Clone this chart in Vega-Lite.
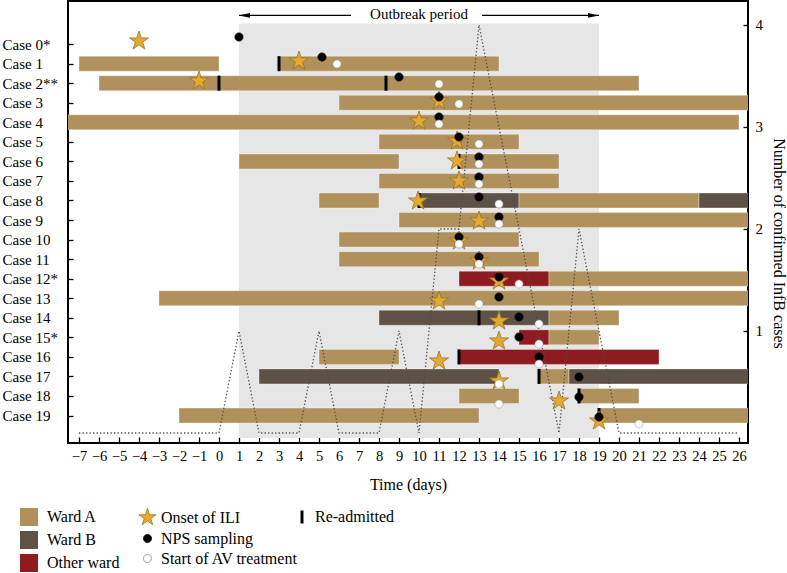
{
  "$schema": "https://vega.github.io/schema/vega-lite/v6.json",
  "width": 680,
  "height": 442,
  "autosize": {"type": "none"},
  "padding": {"left": 68, "top": 1, "right": 39, "bottom": 130},
  "background": "white",
  "config": {
    "font": "Liberation Serif",
    "view": {"stroke": "black", "strokeWidth": 2},
    "axis": {"domain": false, "grid": false, "labelOverlap": false, "labelFlush": false, "labelFont": "Liberation Serif", "titleFont": "Liberation Serif", "labelColor": "black", "titleColor": "black", "tickColor": "black", "tickWidth": 1.3, "labelFontSize": 15, "titleFontSize": 15, "titleFontWeight": "normal"},
    "legend": {"labelFont": "Liberation Serif", "labelFontSize": 16, "labelColor": "black", "padding": 0, "offset": 0, "labelLimit": 300}
  },
  "datasets": {
    "bars": [
      {"case": "Case 1", "row": 1, "start": -7, "end": 0, "ward": "Ward A"},
      {"case": "Case 1", "row": 1, "start": 3, "end": 14, "ward": "Ward A"},
      {"case": "Case 2**", "row": 2, "start": -6, "end": 21, "ward": "Ward A"},
      {"case": "Case 3", "row": 3, "start": 6, "end": 26.5, "ward": "Ward A"},
      {"case": "Case 4", "row": 4, "start": -7.6, "end": 26, "ward": "Ward A"},
      {"case": "Case 5", "row": 5, "start": 8, "end": 15, "ward": "Ward A"},
      {"case": "Case 6", "row": 6, "start": 1, "end": 9, "ward": "Ward A"},
      {"case": "Case 6", "row": 6, "start": 12, "end": 17, "ward": "Ward A"},
      {"case": "Case 7", "row": 7, "start": 8, "end": 17, "ward": "Ward A"},
      {"case": "Case 8", "row": 8, "start": 5, "end": 8, "ward": "Ward A"},
      {"case": "Case 8", "row": 8, "start": 10, "end": 15, "ward": "Ward B"},
      {"case": "Case 8", "row": 8, "start": 15, "end": 24, "ward": "Ward A"},
      {"case": "Case 8", "row": 8, "start": 24, "end": 26.5, "ward": "Ward B"},
      {"case": "Case 9", "row": 9, "start": 9, "end": 26.5, "ward": "Ward A"},
      {"case": "Case 10", "row": 10, "start": 6, "end": 15, "ward": "Ward A"},
      {"case": "Case 11", "row": 11, "start": 6, "end": 16, "ward": "Ward A"},
      {"case": "Case 12*", "row": 12, "start": 12, "end": 16.5, "ward": "Other ward"},
      {"case": "Case 12*", "row": 12, "start": 16.5, "end": 26.5, "ward": "Ward A"},
      {"case": "Case 13", "row": 13, "start": -3, "end": 26.5, "ward": "Ward A"},
      {"case": "Case 14", "row": 14, "start": 8, "end": 16.5, "ward": "Ward B"},
      {"case": "Case 14", "row": 14, "start": 16.5, "end": 20, "ward": "Ward A"},
      {"case": "Case 15*", "row": 15, "start": 15, "end": 16.5, "ward": "Other ward"},
      {"case": "Case 15*", "row": 15, "start": 16.5, "end": 19, "ward": "Ward A"},
      {"case": "Case 16", "row": 16, "start": 5, "end": 9, "ward": "Ward A"},
      {"case": "Case 16", "row": 16, "start": 12, "end": 22, "ward": "Other ward"},
      {"case": "Case 17", "row": 17, "start": 2, "end": 14, "ward": "Ward B"},
      {"case": "Case 17", "row": 17, "start": 16, "end": 17.5, "ward": "Ward A"},
      {"case": "Case 17", "row": 17, "start": 17.5, "end": 26.5, "ward": "Ward B"},
      {"case": "Case 18", "row": 18, "start": 12, "end": 15, "ward": "Ward A"},
      {"case": "Case 18", "row": 18, "start": 18, "end": 21, "ward": "Ward A"},
      {"case": "Case 19", "row": 19, "start": -2, "end": 13, "ward": "Ward A"},
      {"case": "Case 19", "row": 19, "start": 19, "end": 26.5, "ward": "Ward A"}
    ],
    "events": [
      {"row": 0, "day": -4, "event": "Onset of ILI"},
      {"row": 0, "day": 1, "event": "NPS sampling"},
      {"row": 1, "day": 4, "event": "Onset of ILI"},
      {"row": 1, "day": 5.15, "event": "NPS sampling"},
      {"row": 1, "day": 5.9, "event": "Start of AV treatment"},
      {"row": 2, "day": -1, "event": "Onset of ILI"},
      {"row": 2, "day": 9, "event": "NPS sampling"},
      {"row": 2, "day": 11, "event": "Start of AV treatment"},
      {"row": 3, "day": 11, "event": "Onset of ILI"},
      {"row": 3, "day": 11, "event": "NPS sampling"},
      {"row": 3, "day": 12, "event": "Start of AV treatment"},
      {"row": 4, "day": 10, "event": "Onset of ILI"},
      {"row": 4, "day": 11, "event": "NPS sampling"},
      {"row": 4, "day": 11, "event": "Start of AV treatment"},
      {"row": 5, "day": 11.9, "event": "Onset of ILI"},
      {"row": 5, "day": 12, "event": "NPS sampling"},
      {"row": 5, "day": 13, "event": "Start of AV treatment"},
      {"row": 6, "day": 11.9, "event": "Onset of ILI"},
      {"row": 6, "day": 13, "event": "NPS sampling"},
      {"row": 6, "day": 13, "event": "Start of AV treatment"},
      {"row": 7, "day": 12, "event": "Onset of ILI"},
      {"row": 7, "day": 13, "event": "NPS sampling"},
      {"row": 7, "day": 13, "event": "Start of AV treatment"},
      {"row": 8, "day": 9.95, "event": "Onset of ILI"},
      {"row": 8, "day": 13, "event": "NPS sampling"},
      {"row": 8, "day": 14, "event": "Start of AV treatment"},
      {"row": 9, "day": 13, "event": "Onset of ILI"},
      {"row": 9, "day": 14, "event": "NPS sampling"},
      {"row": 9, "day": 14, "event": "Start of AV treatment"},
      {"row": 10, "day": 12, "event": "Onset of ILI"},
      {"row": 10, "day": 12, "event": "NPS sampling"},
      {"row": 10, "day": 12, "event": "Start of AV treatment"},
      {"row": 11, "day": 13, "event": "Onset of ILI"},
      {"row": 11, "day": 13, "event": "NPS sampling"},
      {"row": 11, "day": 13, "event": "Start of AV treatment"},
      {"row": 12, "day": 14, "event": "Onset of ILI"},
      {"row": 12, "day": 14, "event": "NPS sampling"},
      {"row": 12, "day": 15, "event": "Start of AV treatment"},
      {"row": 13, "day": 11, "event": "Onset of ILI"},
      {"row": 13, "day": 14, "event": "NPS sampling"},
      {"row": 13, "day": 13, "event": "Start of AV treatment"},
      {"row": 14, "day": 14, "event": "Onset of ILI"},
      {"row": 14, "day": 15, "event": "NPS sampling"},
      {"row": 14, "day": 16, "event": "Start of AV treatment"},
      {"row": 15, "day": 14, "event": "Onset of ILI"},
      {"row": 15, "day": 15, "event": "NPS sampling"},
      {"row": 15, "day": 16, "event": "Start of AV treatment"},
      {"row": 16, "day": 11, "event": "Onset of ILI"},
      {"row": 16, "day": 16, "event": "NPS sampling"},
      {"row": 16, "day": 16, "event": "Start of AV treatment"},
      {"row": 17, "day": 14, "event": "Onset of ILI"},
      {"row": 17, "day": 18, "event": "NPS sampling"},
      {"row": 17, "day": 14, "event": "Start of AV treatment"},
      {"row": 18, "day": 17, "event": "Onset of ILI"},
      {"row": 18, "day": 18, "event": "NPS sampling"},
      {"row": 18, "day": 14, "event": "Start of AV treatment"},
      {"row": 19, "day": 19, "event": "Onset of ILI"},
      {"row": 19, "day": 19, "event": "NPS sampling"},
      {"row": 19, "day": 21, "event": "Start of AV treatment"}
    ],
    "readmit": [
      {"row": 1, "day": 3, "event": "Re-admitted"},
      {"row": 2, "day": 0, "event": "Re-admitted"},
      {"row": 2, "day": 8.35, "event": "Re-admitted"},
      {"row": 6, "day": 12, "event": "Re-admitted"},
      {"row": 8, "day": 10, "event": "Re-admitted"},
      {"row": 14, "day": 13, "event": "Re-admitted"},
      {"row": 16, "day": 12, "event": "Re-admitted"},
      {"row": 17, "day": 16, "event": "Re-admitted"},
      {"row": 18, "day": 18, "event": "Re-admitted"},
      {"row": 19, "day": 19, "event": "Re-admitted"}
    ],
    "epi": [
      {"day": -7, "count": 0}, {"day": -6, "count": 0}, {"day": -5, "count": 0}, {"day": -4, "count": 0},
      {"day": -3, "count": 0}, {"day": -2, "count": 0}, {"day": -1, "count": 0}, {"day": 0, "count": 0},
      {"day": 1, "count": 1}, {"day": 2, "count": 0}, {"day": 3, "count": 0}, {"day": 4, "count": 0},
      {"day": 5, "count": 1}, {"day": 6, "count": 0}, {"day": 7, "count": 0}, {"day": 8, "count": 0},
      {"day": 9, "count": 1}, {"day": 10, "count": 0}, {"day": 11, "count": 2}, {"day": 12, "count": 2},
      {"day": 13, "count": 4}, {"day": 14, "count": 3}, {"day": 15, "count": 2}, {"day": 16, "count": 1},
      {"day": 17, "count": 0}, {"day": 18, "count": 2}, {"day": 19, "count": 1}, {"day": 20, "count": 0},
      {"day": 21, "count": 0}, {"day": 22, "count": 0}, {"day": 23, "count": 0}, {"day": 24, "count": 0},
      {"day": 25, "count": 0}, {"day": 26, "count": 0}
    ]
  },
  "layer": [
    {
      "layer": [
        {
          "data": {"values": [{"label": "Outbreak period", "start": 1, "end": 19}]},
          "mark": {"type": "rect", "color": "#E6E6E6"},
          "encoding": {
            "x": {"field": "start", "type": "quantitative", "title": "Time (days)",
              "scale": {"domain": [-7.55, 26.45], "nice": false, "zero": false},
              "axis": {"values": [-7,-6,-5,-4,-3,-2,-1,0,1,2,3,4,5,6,7,8,9,10,11,12,13,14,15,16,17,18,19,20,21,22,23,24,25,26], "tickCount": 100, "format": "d", "tickSize": -6, "labelPadding": 12, "labelFontSize": 14.5, "labelOverlap": false, "labelFlush": false, "titlePadding": 14, "titleFontSize": 16}},
            "x2": {"field": "end"},
            "y": {"datum": -1.05, "type": "quantitative", "title": null,
              "scale": {"domain": [-1.95, 20.15], "reverse": true, "nice": false, "zero": false},
              "axis": {"values": [0,1,2,3,4,5,6,7,8,9,10,11,12,13,14,15,16,17,18,19], "tickCount": 100, "labelExpr": "['Case 0*','Case 1','Case 2**','Case 3','Case 4','Case 5','Case 6','Case 7','Case 8','Case 9','Case 10','Case 11','Case 12*','Case 13','Case 14','Case 15*','Case 16','Case 17','Case 18','Case 19'][datum.value]", "tickSize": -5, "labelPadding": 71, "labelAlign": "left", "labelBaseline": "middle", "labelFontSize": 15, "labelOverlap": false, "labelBound": false, "labelFlush": false, "title": null}},
            "y2": {"datum": 20.15}
          }
        },
        {
          "data": {"name": "bars"},
          "mark": {"type": "bar", "size": 15, "clip": true, "stroke": "#FFFFFF", "strokeOpacity": 0.35, "strokeWidth": 1},
          "encoding": {
            "x": {"field": "start", "type": "quantitative", "title": "Time (days)", "scale": {"domain": [-7.55, 26.45], "nice": false, "zero": false}},
            "x2": {"field": "end"},
            "y": {"field": "row", "type": "quantitative", "title": null, "scale": {"domain": [-1.95, 20.15], "reverse": true, "nice": false, "zero": false}},
            "color": {"field": "ward", "type": "nominal",
              "scale": {"domain": ["Ward A", "Ward B", "Other ward"], "range": ["#B0915C", "#5E5247", "#8E1B20"]},
              "legend": {"orient": "none", "legendX": -48, "legendY": 507, "title": null, "symbolType": "square", "symbolSize": 324, "labelOffset": 9, "rowPadding": 5, "symbolStrokeWidth": 0}}
          }
        },
        {
          "data": {"name": "readmit"},
          "mark": {"type": "tick", "orient": "vertical", "size": 15, "thickness": 3, "color": "black"},
          "encoding": {
            "x": {"field": "day", "type": "quantitative", "title": "Time (days)", "scale": {"domain": [-7.55, 26.45], "nice": false, "zero": false}},
            "y": {"field": "row", "type": "quantitative", "title": null, "scale": {"domain": [-1.95, 20.15], "reverse": true, "nice": false, "zero": false}},
            "opacity": {"field": "event", "type": "nominal", "scale": {"domain": ["Re-admitted"], "range": [1, 1]},
              "legend": {"orient": "none", "legendX": 226, "legendY": 508, "title": null, "symbolType": "M-0.23,-1H0.23V1H-0.23Z", "symbolSize": 169, "symbolFillColor": "black", "symbolStrokeWidth": 0, "labelOffset": 5}}
          }
        },
        {
          "data": {"values": [{"label": "Outbreak period"}]},
          "mark": {"type": "text", "font": "Liberation Serif", "fontSize": 15, "baseline": "middle", "align": "center", "color": "black"},
          "encoding": {
            "x": {"datum": 10, "type": "quantitative", "scale": {"domain": [-7.55, 26.45], "nice": false, "zero": false}},
            "y": {"datum": -1.55, "type": "quantitative", "scale": {"domain": [-1.95, 20.15], "reverse": true, "nice": false, "zero": false}},
            "text": {"field": "label"}
          }
        },
        {
          "data": {"values": [{"label": "Outbreak period"}]},
          "mark": {"type": "rule", "color": "black", "strokeWidth": 1.3},
          "encoding": {
            "x": {"datum": 1, "type": "quantitative", "scale": {"domain": [-7.55, 26.45], "nice": false, "zero": false}},
            "x2": {"datum": 6.6},
            "y": {"datum": -1.47, "type": "quantitative", "scale": {"domain": [-1.95, 20.15], "reverse": true, "nice": false, "zero": false}}
          }
        },
        {
          "data": {"values": [{"label": "Outbreak period"}]},
          "mark": {"type": "rule", "color": "black", "strokeWidth": 1.3},
          "encoding": {
            "x": {"datum": 13.15, "type": "quantitative", "scale": {"domain": [-7.55, 26.45], "nice": false, "zero": false}},
            "x2": {"datum": 19},
            "y": {"datum": -1.47, "type": "quantitative", "scale": {"domain": [-1.95, 20.15], "reverse": true, "nice": false, "zero": false}}
          }
        },
        {
          "data": {"values": [{"label": "Outbreak period"}]},
          "mark": {"type": "point", "shape": "M0,0L2,-0.45L2,0.45Z", "size": 121, "filled": true, "color": "black", "opacity": 1},
          "encoding": {
            "x": {"datum": 1, "type": "quantitative", "scale": {"domain": [-7.55, 26.45], "nice": false, "zero": false}},
            "y": {"datum": -1.47, "type": "quantitative", "scale": {"domain": [-1.95, 20.15], "reverse": true, "nice": false, "zero": false}}
          }
        },
        {
          "data": {"values": [{"label": "Outbreak period"}]},
          "mark": {"type": "point", "shape": "M0,0L-2,-0.45L-2,0.45Z", "size": 121, "filled": true, "color": "black", "opacity": 1},
          "encoding": {
            "x": {"datum": 19, "type": "quantitative", "scale": {"domain": [-7.55, 26.45], "nice": false, "zero": false}},
            "y": {"datum": -1.47, "type": "quantitative", "scale": {"domain": [-1.95, 20.15], "reverse": true, "nice": false, "zero": false}}
          }
        }
      ]
    },
    {
      "data": {"name": "epi"},
      "mark": {"type": "line", "color": "#4A4A4A", "strokeWidth": 1.3, "strokeDash": [1.3, 2.2]},
      "encoding": {
        "x": {"field": "day", "type": "quantitative", "title": "Time (days)", "scale": {"domain": [-7.55, 26.45], "nice": false, "zero": false}},
        "y": {"field": "count", "type": "quantitative", "title": "Number of confirmed InfB cases",
          "scale": {"domain": [-0.098, 4.235], "nice": false, "zero": false},
          "axis": {"orient": "right", "values": [1, 2, 3, 4], "tickCount": 100, "format": "d", "tickSize": -5, "labelPadding": 12, "labelAlign": "left", "labelFontSize": 15, "titleFontSize": 16, "titlePadding": 8, "titleAngle": 90, "titleY": 242, "labelOverlap": false}}
      }
    },
    {
      "layer": [
        {
          "data": {"name": "events"},
          "transform": [{"filter": "datum.event === 'Onset of ILI'"}],
          "mark": {"type": "point", "yOffset": 1, "size": 400, "strokeWidth": 0.8, "opacity": 1},
          "encoding": {
            "x": {"field": "day", "type": "quantitative", "title": "Time (days)", "scale": {"domain": [-7.55, 26.45], "nice": false, "zero": false}},
            "y": {"field": "row", "type": "quantitative", "axis": null, "scale": {"domain": [-1.95, 20.15], "reverse": true, "nice": false, "zero": false}},
            "shape": {"field": "event", "type": "nominal", "scale": {"domain": ["Onset of ILI", "NPS sampling", "Start of AV treatment"], "range": ["M0,-1L0.2245,-0.309L0.951,-0.309L0.363,0.118L0.588,0.809L0,0.382L-0.588,0.809L-0.363,0.118L-0.951,-0.309L-0.2245,-0.309Z", "M0.45,0A0.45,0.45,0,1,1,-0.45,0A0.45,0.45,0,1,1,0.45,0Z", "M0.45,0A0.45,0.45,0,1,1,-0.45,0A0.45,0.45,0,1,1,0.45,0Z"]},
              "legend": {"orient": "none", "legendX": 70, "legendY": 507, "title": null, "symbolSize": 324, "labelOffset": 4, "rowPadding": 2, "symbolStrokeWidth": 0.8}},
            "fill": {"field": "event", "type": "nominal", "scale": {"domain": ["Onset of ILI", "NPS sampling", "Start of AV treatment"], "range": ["#E6A92F", "#000000", "#FFFFFF"]},
              "legend": {"orient": "none", "legendX": 70, "legendY": 507, "title": null, "symbolSize": 324, "labelOffset": 4, "rowPadding": 2, "symbolStrokeWidth": 0.8}},
            "stroke": {"field": "event", "type": "nominal", "scale": {"domain": ["Onset of ILI", "NPS sampling", "Start of AV treatment"], "range": ["#98712A", "#000000", "#8C8C8C"]},
              "legend": {"orient": "none", "legendX": 70, "legendY": 507, "title": null, "symbolSize": 324, "labelOffset": 4, "rowPadding": 2, "symbolStrokeWidth": 0.8}}
          }
        },
        {
          "data": {"name": "events"},
          "transform": [{"filter": "datum.event === 'NPS sampling'"}],
          "mark": {"type": "point", "yOffset": -3, "size": 330, "strokeWidth": 0.8, "opacity": 1},
          "encoding": {
            "x": {"field": "day", "type": "quantitative", "title": "Time (days)", "scale": {"domain": [-7.55, 26.45], "nice": false, "zero": false}},
            "y": {"field": "row", "type": "quantitative", "axis": null, "scale": {"domain": [-1.95, 20.15], "reverse": true, "nice": false, "zero": false}},
            "shape": {"field": "event", "type": "nominal", "scale": {"domain": ["Onset of ILI", "NPS sampling", "Start of AV treatment"], "range": ["M0,-1L0.2245,-0.309L0.951,-0.309L0.363,0.118L0.588,0.809L0,0.382L-0.588,0.809L-0.363,0.118L-0.951,-0.309L-0.2245,-0.309Z", "M0.45,0A0.45,0.45,0,1,1,-0.45,0A0.45,0.45,0,1,1,0.45,0Z", "M0.45,0A0.45,0.45,0,1,1,-0.45,0A0.45,0.45,0,1,1,0.45,0Z"]},
              "legend": {"orient": "none", "legendX": 70, "legendY": 507, "title": null, "symbolSize": 324, "labelOffset": 4, "rowPadding": 2, "symbolStrokeWidth": 0.8}},
            "fill": {"field": "event", "type": "nominal", "scale": {"domain": ["Onset of ILI", "NPS sampling", "Start of AV treatment"], "range": ["#E6A92F", "#000000", "#FFFFFF"]},
              "legend": {"orient": "none", "legendX": 70, "legendY": 507, "title": null, "symbolSize": 324, "labelOffset": 4, "rowPadding": 2, "symbolStrokeWidth": 0.8}},
            "stroke": {"field": "event", "type": "nominal", "scale": {"domain": ["Onset of ILI", "NPS sampling", "Start of AV treatment"], "range": ["#98712A", "#000000", "#8C8C8C"]},
              "legend": {"orient": "none", "legendX": 70, "legendY": 507, "title": null, "symbolSize": 324, "labelOffset": 4, "rowPadding": 2, "symbolStrokeWidth": 0.8}}
          }
        },
        {
          "data": {"name": "events"},
          "transform": [{"filter": "datum.event === 'Start of AV treatment'"}],
          "mark": {"type": "point", "yOffset": 4, "size": 330, "strokeWidth": 0.5, "opacity": 1},
          "encoding": {
            "x": {"field": "day", "type": "quantitative", "title": "Time (days)", "scale": {"domain": [-7.55, 26.45], "nice": false, "zero": false}},
            "y": {"field": "row", "type": "quantitative", "axis": null, "scale": {"domain": [-1.95, 20.15], "reverse": true, "nice": false, "zero": false}},
            "shape": {"field": "event", "type": "nominal", "scale": {"domain": ["Onset of ILI", "NPS sampling", "Start of AV treatment"], "range": ["M0,-1L0.2245,-0.309L0.951,-0.309L0.363,0.118L0.588,0.809L0,0.382L-0.588,0.809L-0.363,0.118L-0.951,-0.309L-0.2245,-0.309Z", "M0.45,0A0.45,0.45,0,1,1,-0.45,0A0.45,0.45,0,1,1,0.45,0Z", "M0.45,0A0.45,0.45,0,1,1,-0.45,0A0.45,0.45,0,1,1,0.45,0Z"]},
              "legend": {"orient": "none", "legendX": 70, "legendY": 507, "title": null, "symbolSize": 324, "labelOffset": 4, "rowPadding": 2, "symbolStrokeWidth": 0.8}},
            "fill": {"field": "event", "type": "nominal", "scale": {"domain": ["Onset of ILI", "NPS sampling", "Start of AV treatment"], "range": ["#E6A92F", "#000000", "#FFFFFF"]},
              "legend": {"orient": "none", "legendX": 70, "legendY": 507, "title": null, "symbolSize": 324, "labelOffset": 4, "rowPadding": 2, "symbolStrokeWidth": 0.8}},
            "stroke": {"field": "event", "type": "nominal", "scale": {"domain": ["Onset of ILI", "NPS sampling", "Start of AV treatment"], "range": ["#98712A", "#000000", "#8C8C8C"]},
              "legend": {"orient": "none", "legendX": 70, "legendY": 507, "title": null, "symbolSize": 324, "labelOffset": 4, "rowPadding": 2, "symbolStrokeWidth": 0.8}}
          }
        }
      ]
    }
  ],
  "resolve": {"scale": {"y": "independent"}, "axis": {"y": "independent"}}
}
